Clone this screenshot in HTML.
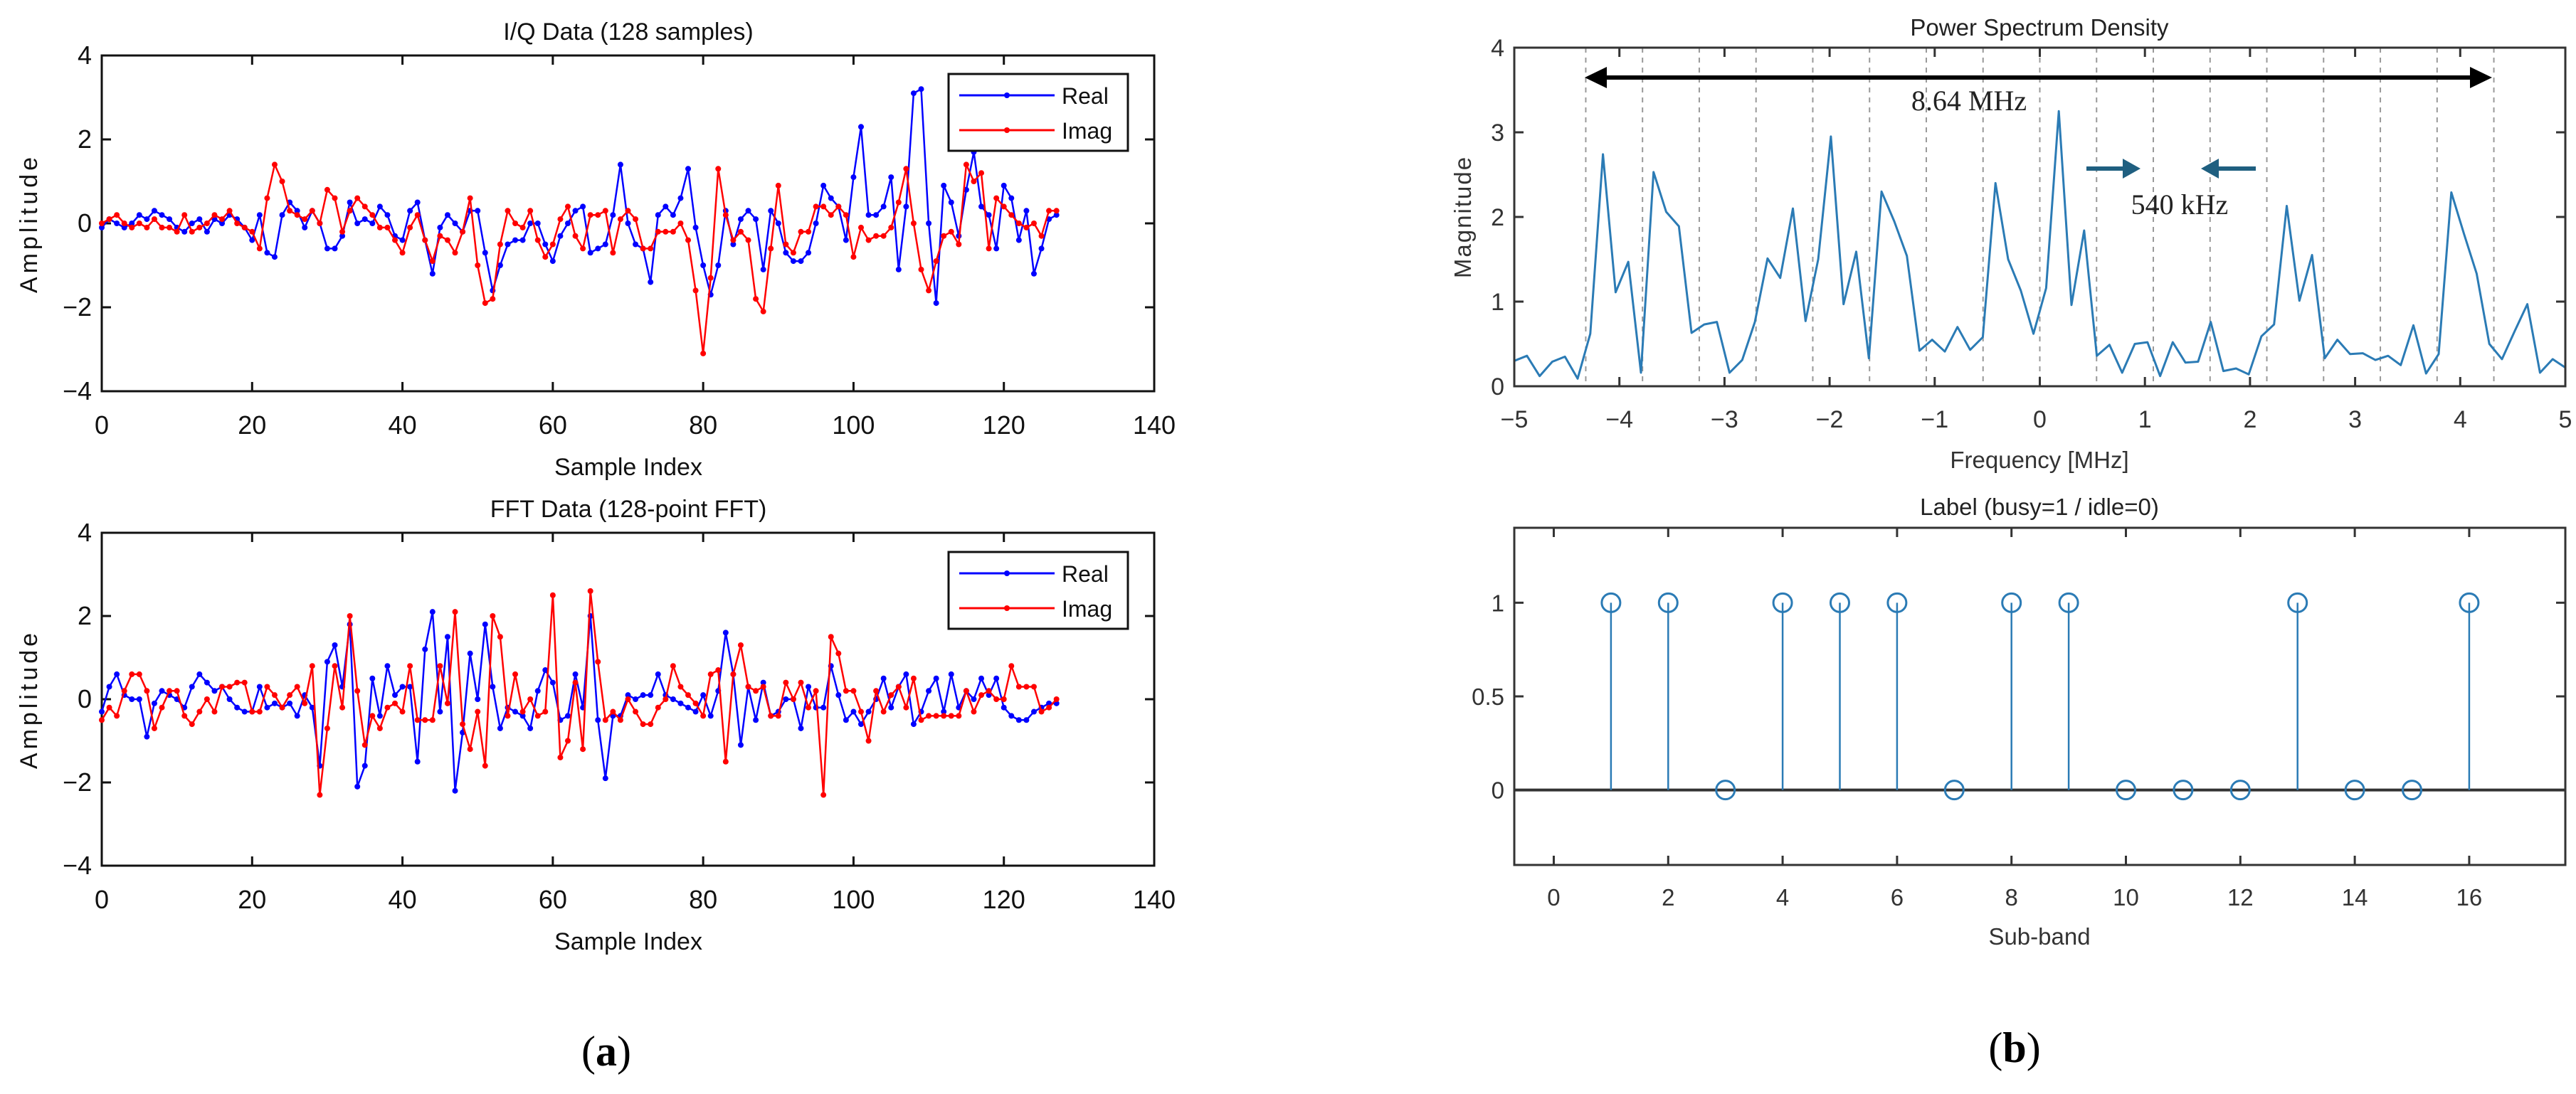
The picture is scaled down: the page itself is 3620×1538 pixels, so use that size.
<!DOCTYPE html>
<html><head><meta charset="utf-8"><title>I/Q, FFT, PSD and labels</title>
<style>
html,body{margin:0;padding:0;background:#fff;}
svg{display:block;}
text{font-family:"Liberation Sans",Arial,sans-serif;}
text.serif{font-family:"Liberation Serif","DejaVu Serif",serif;}
</style></head>
<body>
<svg id="fig" width="3620" height="1538" viewBox="0 0 3620 1538" xmlns="http://www.w3.org/2000/svg"></svg>
<script>
// ---------- DATA ----------
const iqReal=[-0.1,0.1,0.0,-0.1,0.0,0.2,0.1,0.3,0.2,0.1,-0.1,-0.2,0.0,0.1,-0.2,0.1,0.0,0.2,0.1,-0.1,-0.4,0.2,-0.7,-0.8,0.2,0.5,0.3,-0.1,0.3,0.0,-0.6,-0.6,-0.3,0.5,0.0,0.1,0.0,0.4,0.2,-0.3,-0.4,0.3,0.5,-0.4,-1.2,-0.1,0.2,0.0,-0.2,0.3,0.3,-0.7,-1.6,-1.0,-0.5,-0.4,-0.4,0.0,0.0,-0.5,-0.9,-0.3,0.0,0.3,0.4,-0.7,-0.6,-0.5,0.2,1.4,0.0,-0.5,-0.6,-1.4,0.2,0.4,0.2,0.6,1.3,-0.1,-1.0,-1.7,-1.0,0.3,-0.5,0.1,0.3,0.1,-1.1,0.3,0.0,-0.7,-0.9,-0.9,-0.7,0.0,0.9,0.6,0.4,-0.4,1.1,2.3,0.2,0.2,0.4,1.1,-1.1,0.4,3.1,3.2,0.0,-1.9,0.9,0.5,-0.3,0.8,1.7,0.4,0.2,-0.6,0.9,0.6,-0.4,0.3,-1.2,-0.6,0.1,0.2];
const iqImag=[0.0,0.1,0.2,0.0,-0.1,0.0,-0.1,0.1,-0.1,-0.1,-0.2,0.2,-0.2,-0.1,0.0,0.2,0.1,0.3,0.0,-0.1,-0.2,-0.6,0.6,1.4,1.0,0.3,0.2,0.1,0.3,0.0,0.8,0.6,-0.2,0.3,0.6,0.4,0.2,-0.1,-0.1,-0.4,-0.7,-0.1,0.2,-0.4,-0.9,-0.3,-0.4,-0.7,-0.2,0.6,-1.0,-1.9,-1.8,-0.5,0.3,0.0,-0.1,0.3,-0.4,-0.8,-0.5,0.1,0.4,-0.3,-0.6,0.2,0.2,0.3,-0.7,0.1,0.3,0.1,-0.6,-0.6,-0.2,-0.2,-0.2,0.0,-0.4,-1.6,-3.1,-1.3,1.3,0.2,-0.4,-0.2,-0.4,-1.8,-2.1,-0.6,0.9,-0.5,-0.7,-0.2,-0.2,0.4,0.4,0.2,0.4,0.2,-0.8,-0.1,-0.4,-0.3,-0.3,-0.1,0.5,1.3,0.0,-1.1,-1.6,-0.9,-0.3,-0.2,-0.5,1.4,1.0,1.2,-0.6,0.6,0.4,0.2,0.0,-0.1,0.0,-0.3,0.3,0.3];
const fftReal=[-0.3,0.3,0.6,0.1,0.0,0.0,-0.9,-0.1,0.2,0.1,0.0,-0.2,0.3,0.6,0.4,0.2,0.3,0.0,-0.2,-0.3,-0.3,0.3,-0.2,-0.1,-0.2,-0.1,-0.4,0.1,-0.2,-1.6,0.9,1.3,0.3,1.8,-2.1,-1.6,0.5,-0.4,0.8,0.1,0.3,0.3,-1.5,1.2,2.1,-0.3,1.5,-2.2,-0.8,1.1,0.0,1.8,0.3,-0.7,-0.2,-0.3,-0.4,-0.7,0.2,0.7,0.4,-0.5,-0.4,0.6,-0.2,2.0,-0.5,-1.9,-0.4,-0.4,0.1,0.0,0.1,0.1,0.6,0.1,0.0,-0.1,-0.2,-0.3,0.1,-0.4,0.2,1.6,0.6,-1.1,0.3,-0.5,0.4,-0.4,-0.3,0.0,0.0,-0.7,0.3,-0.2,-0.2,0.8,0.1,-0.5,-0.3,-0.6,-0.3,0.0,0.5,-0.2,0.3,0.6,-0.6,-0.3,0.2,0.5,-0.3,0.6,-0.2,0.2,0.0,0.5,0.1,0.5,-0.2,-0.4,-0.5,-0.5,-0.3,-0.2,-0.1,-0.1];
const fftImag=[-0.5,-0.2,-0.4,0.2,0.6,0.6,0.2,-0.7,-0.2,0.2,0.2,-0.4,-0.6,-0.3,0.0,-0.3,0.3,0.3,0.4,0.4,-0.3,-0.3,0.3,0.1,-0.2,0.1,0.3,-0.1,0.8,-2.3,-0.7,0.8,-0.2,2.0,0.2,-1.1,-0.4,-0.7,-0.2,-0.1,-0.3,0.8,-0.5,-0.5,-0.5,0.8,-0.1,2.1,-0.6,-1.2,-0.3,-1.6,2.0,1.5,-0.4,0.6,-0.3,0.0,-0.4,-0.3,2.5,-1.4,-1.0,0.4,-1.2,2.6,0.9,-0.5,-0.3,-0.5,0.0,-0.3,-0.6,-0.6,-0.2,0.0,0.8,0.3,0.1,-0.1,-0.4,0.6,0.7,-1.5,0.6,1.3,0.3,0.2,0.3,-0.4,-0.4,0.4,0.0,0.4,-0.2,0.2,-2.3,1.5,1.1,0.2,0.2,-0.3,-1.0,0.2,-0.3,0.1,0.3,-0.2,0.5,-0.5,-0.4,-0.4,-0.4,-0.4,-0.4,0.2,-0.3,0.1,0.2,0.0,0.0,0.8,0.3,0.3,0.3,-0.3,-0.2,0.0];
const psdMag=[0.30,0.36,0.12,0.29,0.35,0.09,0.62,2.74,1.11,1.47,0.16,2.53,2.06,1.89,0.63,0.73,0.76,0.16,0.31,0.76,1.51,1.28,2.10,0.77,1.50,2.95,0.97,1.59,0.33,2.30,1.95,1.54,0.42,0.55,0.41,0.70,0.43,0.58,2.40,1.50,1.13,0.62,1.16,3.25,0.96,1.84,0.36,0.49,0.16,0.50,0.52,0.12,0.52,0.28,0.29,0.76,0.18,0.21,0.14,0.59,0.73,2.13,1.01,1.55,0.33,0.55,0.38,0.39,0.31,0.36,0.25,0.72,0.15,0.38,2.29,1.80,1.33,0.50,0.32,0.65,0.97,0.16,0.32,0.22];
const subBands=[1,2,3,4,5,6,7,8,9,10,11,12,13,14,15,16];
const labels=[1,1,0,1,1,1,0,1,1,0,0,0,1,0,0,1];
const iqXTicks=[0,20,40,60,80,100,120,140];
const iqYTicks=[-4,-2,0,2,4];
const psdXTicks=[-5,-4,-3,-2,-1,0,1,2,3,4,5];
const psdYTicks=[0,1,2,3,4];
const lblXTicks=[0,2,4,6,8,10,12,14,16];
const lblYTicks=[0,0.5,1];
const lblYTickText=["0","0.5","1"];

// ---------- HELPERS ----------
const NS="http://www.w3.org/2000/svg";
const svg=document.getElementById('fig');
function mk(tag,attrs,parent,txt){const e=document.createElementNS(NS,tag);for(const k in attrs)e.setAttribute(k,attrs[k]);if(txt!==undefined)e.textContent=txt;(parent||svg).appendChild(e);return e;}
function scale(d0,d1,r0,r1){return v=>r0+(v-d0)*(r1-r0)/(d1-d0);}

function axesFrame(g,L,R,T,B,xs,ys,xt,yt,opts){
  mk('rect',{x:L,y:T,width:R-L,height:B-T,fill:'none',stroke:opts.frame,'stroke-width':3},g);
  xt.forEach((v,i)=>{const x=xs(v);
    const t1=mk('line',{x1:x,y1:B,x2:x,y2:B-13,stroke:opts.frame,'stroke-width':3},g);
    
    mk('line',{x1:x,y1:T,x2:x,y2:T+13,stroke:opts.frame,'stroke-width':3},g);
    const tl=mk('text',{x:x,y:opts.xLabY,'text-anchor':'middle','font-size':opts.fs,fill:opts.tc},g,String(v).replace('-','\u2212'));
    
  });
  yt.forEach((v,i)=>{const y=ys(v);
    mk('line',{x1:L,y1:y,x2:L+13,y2:y,stroke:opts.frame,'stroke-width':3},g);
    mk('line',{x1:R,y1:y,x2:R-13,y2:y,stroke:opts.frame,'stroke-width':3},g);
    const tl=mk('text',{x:L-14,y:y+12,'text-anchor':'end','font-size':opts.fs,fill:opts.tc},g,opts.yText?opts.yText[i]:String(v).replace('-','\u2212'));
    
  });
}

// ---------- LEFT PLOTS ----------
function iqPlot(name,T,B,title,real,imag,legT){
  const g=mk('g',{});
  
  const L=143,R=1622;
  const xs=scale(0,140,L,R), ys=scale(-4,4,B,T);
  axesFrame(g,L,R,T,B,xs,ys,iqXTicks,iqYTicks,{frame:'#111',tc:'#111',fs:36,xLabY:B+60});
  const tt=mk('text',{x:883,y:T-22,'text-anchor':'middle','font-size':34,fill:'#111'},g,title);
  
  const xl=mk('text',{x:883,y:B+118,'text-anchor':'middle','font-size':34,fill:'#111'},g,'Sample Index');
  
  const cy=(T+B)/2;
  const yl=mk('text',{x:40,y:cy,'text-anchor':'middle','font-size':34,fill:'#111','letter-spacing':'5',transform:`rotate(-90 40 ${cy}) translate(0 12)`},g,'Amplitude');
  
  [[real,'#0000ff','real'],[imag,'#ff0000','imag']].forEach(([arr,col,nm])=>{
    const pts=arr.map((v,i)=>xs(i).toFixed(1)+','+ys(v).toFixed(1)).join(' ');
    const pl=mk('polyline',{points:pts,fill:'none',stroke:col,'stroke-width':2.5,'stroke-linejoin':'round'},g);
    
    arr.forEach((v,i)=>{const c=mk('circle',{cx:xs(i),cy:ys(v),r:4,fill:col},g);
      });
  });
  const lg=mk('g',{},g);
  
  mk('rect',{x:1333,y:legT,width:252,height:108,fill:'#fff',stroke:'#111','stroke-width':3},lg);
  [['Real','#0000ff',30],['Imag','#ff0000',79]].forEach(([t,c,dy])=>{
    const e=mk('g',{},lg);
    
    mk('line',{x1:1348,y1:legT+dy,x2:1482,y2:legT+dy,stroke:c,'stroke-width':3},e);
    mk('circle',{cx:1415,cy:legT+dy,r:4,fill:c},e);
    mk('text',{x:1492,y:legT+dy+12,'font-size':32,fill:'#111'},e,t);
  });
}
iqPlot('iq-data-plot',78,550,'I/Q Data (128 samples)',iqReal,iqImag,104);
iqPlot('fft-data-plot',749,1217,'FFT Data (128-point FFT)',fftReal,fftImag,776);

// ---------- PSD PLOT ----------
(function(){
  const g=mk('g',{});
  
  const L=2128,R=3605,T=67,B=543;
  const xs=scale(-5,5,L,R), ys=scale(0,4,B,T);
  for(let k=0;k<=16;k++){const x=xs(-4.32+k*0.54);
    const d=mk('line',{x1:x,y1:T,x2:x,y2:B,stroke:'#999','stroke-width':2,'stroke-dasharray':'7 7'},g);
    }
  const N=psdMag.length;
  const pts=psdMag.map((v,i)=>xs(-5+10*i/(N-1)).toFixed(1)+','+ys(v).toFixed(1)).join(' ');
  const pl=mk('polyline',{points:pts,fill:'none',stroke:'#2b7bb5','stroke-width':3,'stroke-linejoin':'round'},g);
  
  axesFrame(g,L,R,T,B,xs,ys,psdXTicks,psdYTicks,{frame:'#333',tc:'#333',fs:34,xLabY:B+58});
  const tt=mk('text',{x:2866,y:50,'text-anchor':'middle','font-size':33,fill:'#222'},g,'Power Spectrum Density');
  
  const xl=mk('text',{x:2866,y:658,'text-anchor':'middle','font-size':33,fill:'#333'},g,'Frequency [MHz]');
  
  const yl=mk('text',{x:2055,y:305,'text-anchor':'middle','font-size':33,fill:'#333','letter-spacing':'2',transform:'rotate(-90 2055 305) translate(0 12)'},g,'Magnitude');
  
  const ba=mk('g',{},g);
  
  mk('line',{x1:2250,y1:109,x2:3480,y2:109,stroke:'#000','stroke-width':6},ba);
  mk('polygon',{points:'2227,109 2258,94 2258,124',fill:'#000'},ba);
  mk('polygon',{points:'3502,109 3471,94 3471,124',fill:'#000'},ba);
  const bt=mk('text',{x:2767,y:155,'text-anchor':'middle','font-size':40,fill:'#222','class':'serif'},g,'8.64 MHz');
  
  const ta=mk('g',{},g);
  
  mk('line',{x1:2932,y1:237,x2:2990,y2:237,stroke:'#1f5f80','stroke-width':6},ta);
  mk('polygon',{points:'3008,237 2983,223 2983,251',fill:'#1f5f80'},ta);
  mk('line',{x1:3111,y1:237,x2:3170,y2:237,stroke:'#1f5f80','stroke-width':6},ta);
  mk('polygon',{points:'3093,237 3118,223 3118,251',fill:'#1f5f80'},ta);
  const st=mk('text',{x:3063,y:301,'text-anchor':'middle','font-size':40,fill:'#222','class':'serif'},g,'540 kHz');
  
})();

// ---------- LABEL STEM PLOT ----------
(function(){
  const g=mk('g',{});
  
  const L=2128,R=3605,T=742,B=1216;
  const xs=scale(-0.69,17.68,L,R), ys=scale(-0.4,1.4,B,T);
  const bl=mk('line',{x1:L,y1:ys(0),x2:R,y2:ys(0),stroke:'#333','stroke-width':4},g);
  
  subBands.forEach((b,i)=>{const x=xs(b),y=ys(labels[i]);
    const s=mk('line',{x1:x,y1:ys(0),x2:x,y2:y,stroke:'#2b7bb5','stroke-width':2.5},g);
    
    const c=mk('circle',{cx:x,cy:y,r:13,fill:'none',stroke:'#2b7bb5','stroke-width':3},g);
    
  });
  axesFrame(g,L,R,T,B,xs,ys,lblXTicks,lblYTicks,{frame:'#333',tc:'#333',fs:33,xLabY:B+57,yText:lblYTickText});
  const tt=mk('text',{x:2866,y:724,'text-anchor':'middle','font-size':33,fill:'#222'},g,'Label (busy=1 / idle=0)');
  
  const xl=mk('text',{x:2866,y:1328,'text-anchor':'middle','font-size':33,fill:'#333'},g,'Sub-band');
  
})();

// ---------- PANEL LABELS ----------
const pa=mk('text',{x:852,y:1498,'text-anchor':'middle','font-size':60,fill:'#000','class':'serif'},svg);

pa.innerHTML='(<tspan font-weight="bold">a</tspan>)';
const pb=mk('text',{x:2831,y:1493,'text-anchor':'middle','font-size':60,fill:'#000','class':'serif'},svg);

pb.innerHTML='(<tspan font-weight="bold">b</tspan>)';
</script>
</body></html>
